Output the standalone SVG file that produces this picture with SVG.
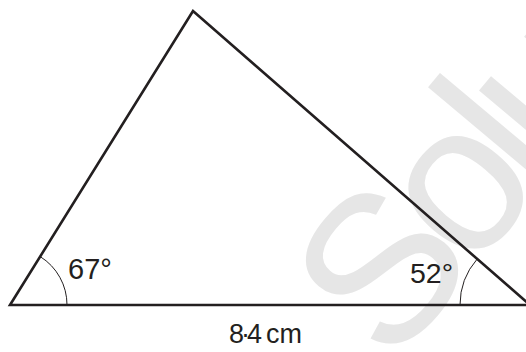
<svg xmlns="http://www.w3.org/2000/svg" width="526" height="352" viewBox="0 0 526 352">
<style>
.edge{stroke:#231f20;stroke-width:2.6;fill:none;stroke-linecap:round;stroke-linejoin:miter}
.arc{stroke:#231f20;stroke-width:1;fill:none}
.lbl{font-family:"Liberation Sans",Arial,sans-serif;fill:#231f20}
.wm{font-family:"Liberation Sans",Arial,sans-serif;fill:#e6e6e6}
</style>
<rect width="526" height="352" fill="#ffffff"/>
<g id="watermark">
<text class="wm" x="0" y="0" font-size="210" letter-spacing="-16" transform="translate(391,368) rotate(-50)">Solutions</text>
</g>
<g id="connectors">
<path class="edge" d="M10,305 L193,11 L530,305 Z"/>
<path class="arc" d="M67,305 A57,57 0 0 0 40.2,256.6"/>
<path class="arc" d="M460,305 A70,70 0 0 1 477.2,259"/>
</g>
<g id="angle-left">
<text class="lbl" x="68" y="279" font-size="29">67°</text>
</g>
<g id="angle-right">
<text class="lbl" x="410" y="283" font-size="28.5">52°</text>
</g>
<g id="base-label">
<text class="lbl" x="229" y="343" font-size="27"><tspan letter-spacing="-3">8·4</tspan><tspan x="266">cm</tspan></text>
</g>
</svg>
